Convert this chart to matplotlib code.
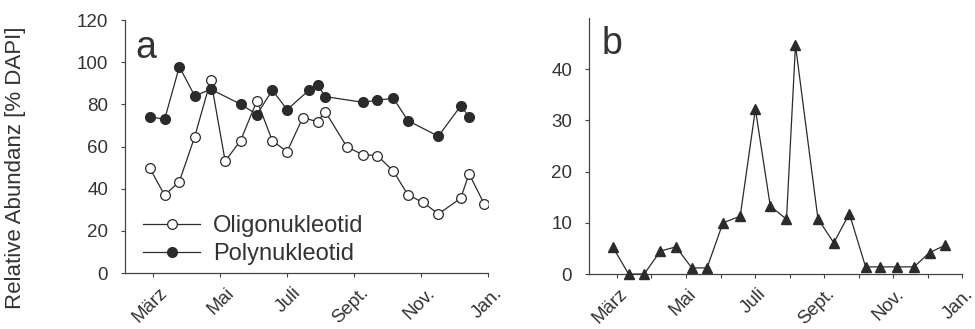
import matplotlib
matplotlib.use("Agg")
import matplotlib.pyplot as plt
from matplotlib.transforms import ScaledTranslation

plt.rcParams['font.family'] = ['Liberation Sans', 'DejaVu Sans']

# x positions in months after start of March (0 = März tick, 10 = Jan. tick)
oligo_x = [-0.10, 0.35, 0.79, 1.25, 1.73, 2.16, 2.62, 3.11, 3.57, 4.01, 4.48,
           4.92, 5.15, 5.80, 6.27, 6.71, 7.19, 7.62, 8.08, 8.53, 9.20, 9.45, 9.90]
oligo_y = [50.0, 36.9, 43.4, 64.7, 91.6, 53.1, 62.8, 81.8, 62.7, 57.6, 73.7,
           71.8, 76.6, 59.8, 56.2, 55.7, 48.3, 37.1, 33.5, 28.0, 35.5, 47.1, 32.8]

poly_x = [-0.10, 0.35, 0.79, 1.25, 1.73, 2.62, 3.11, 3.57, 4.01, 4.67,
          4.92, 5.15, 6.27, 6.71, 7.19, 7.62, 8.53, 9.20, 9.45]
poly_y = [74.2, 72.9, 97.9, 84.0, 87.2, 80.1, 75.2, 86.8, 77.5, 86.8,
          89.4, 83.7, 81.0, 82.0, 82.9, 72.3, 64.9, 79.3, 74.2]

b_x = [-0.12, 0.34, 0.79, 1.26, 1.71, 2.17, 2.61, 3.07, 3.57, 4.01, 4.44,
       4.91, 5.17, 5.82, 6.28, 6.73, 7.20, 7.63, 8.12, 8.60, 9.05, 9.50]
b_y = [5.3, 0.0, 0.0, 4.5, 5.3, 1.2, 1.2, 10.0, 11.3, 32.2, 13.3,
       10.7, 44.7, 10.8, 6.1, 11.8, 1.4, 1.4, 1.4, 1.4, 4.2, 5.6]

month_ticks = [0, 2, 4, 6, 8, 10]
month_labels = ['März', 'Mai', 'Juli', 'Sept.', 'Nov.', 'Jan.']
b_minor_ticks = [1, 3, 5, 7, 9]

c = '#2b2b2b'
tc = '#333333'
fig = plt.figure(figsize=(9.75, 3.29), dpi=100)
axa = fig.add_axes([0.128, 0.170, 0.372, 0.769])
axb = fig.add_axes([0.604, 0.167, 0.383, 0.778])

axa.plot(oligo_x, oligo_y, '-o', color=c, mfc='white', mec=c, ms=7, lw=0.9,
         mew=0.9, label='Oligonukleotid', zorder=3)
axa.plot(poly_x, poly_y, '-o', color=c, mfc=c, mec=c, ms=7, lw=0.9,
         label='Polynukleotid', zorder=4)
axa.set_xlim(-0.84, 10)
axa.set_ylim(0, 120)
axa.set_yticks([0, 20, 40, 60, 80, 100, 120])

axb.plot(b_x, b_y, '-^', color=c, mfc=c, mec=c, ms=7, lw=0.9, zorder=3,
         clip_on=False)
axb.set_xlim(-0.81, 10)
axb.set_ylim(0, 50)
axb.set_yticks([0, 10, 20, 30, 40])
axb.set_xticks(b_minor_ticks, minor=True)

for ax, dx in ((axa, 6), (axb, 2)):
    offset = ScaledTranslation(dx / 100, 0, fig.dpi_scale_trans)
    ax.set_xticks(month_ticks)
    ax.set_xticklabels(month_labels, rotation=45, ha='right', va='top',
                       rotation_mode='anchor')
    for s in ('top', 'right'):
        ax.spines[s].set_visible(False)
    for s in ('left', 'bottom'):
        ax.spines[s].set_color('#444444')
        ax.spines[s].set_linewidth(0.9)
    ax.tick_params(axis='both', which='both', direction='out', length=3,
                   width=0.8, color='#444444', labelsize=13.5, labelcolor=tc)
    ax.tick_params(axis='y', pad=9)
    ax.tick_params(axis='x', pad=5)
    for lab in ax.get_xticklabels():
        lab.set_transform(lab.get_transform() + offset)

fig.text(0.016, 0.49, 'Relative Abundanz [% DAPI]', rotation=90, fontsize=16,
         color=tc, ha='center', va='center')

axa.text(0.03, 0.89, 'a', transform=axa.transAxes, fontsize=27,
         color=tc, va='center', ha='left')
axb.text(0.035, 0.90, 'b', transform=axb.transAxes, fontsize=27,
         color=tc, va='center', ha='left')

leg = axa.legend(loc='lower left', bbox_to_anchor=(0.025, -0.005), frameon=False,
                 fontsize=17, handlelength=2.4, handletextpad=0.55,
                 labelspacing=0.25, borderaxespad=0.0)
for t in leg.get_texts():
    t.set_color(tc)

fig.savefig('out.png', dpi=100)
